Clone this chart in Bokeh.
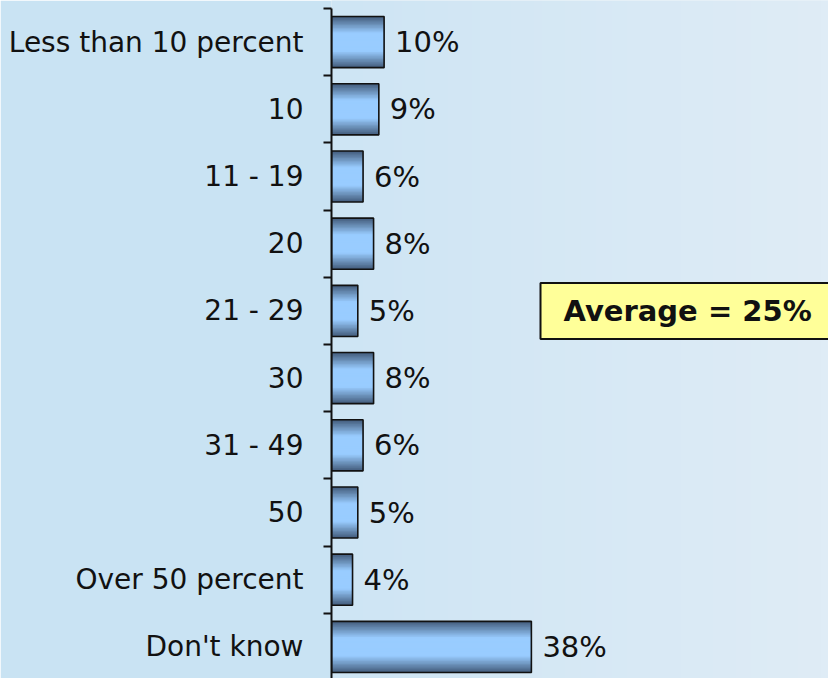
import numpy as np
from bokeh.plotting import figure
from bokeh.models import Range1d, FixedTicker, Label, ColumnDataSource
from bokeh.core.properties import value
from bokeh.embed import file_html
from bokeh.resources import INLINE

categories = ["Less than 10 percent", "10", "11 - 19", "20", "21 - 29", "30",
              "31 - 49", "50", "Over 50 percent", "Don't know"]
values = [10, 9, 6, 8, 5, 8, 6, 5, 4, 38]
value_labels = ["10%", "9%", "6%", "8%", "5%", "8%", "6%", "5%", "4%", "38%"]
average_text = "Average = 25%"
average_row = 4

FONT = "DejaVu Sans"
W, H = 828, 678
LEFT = 331
TOP = 8
PX_PER_PCT = 5.26
ROW = 67.2
pos = list(range(len(categories)))

x_rng = Range1d(0, (W - LEFT) / PX_PER_PCT)
y_rng = Range1d(-0.5 + (H - TOP) / ROW, -0.5 - TOP / ROW)

p = figure(width=W, height=H, output_backend="svg", toolbar_location=None,
           x_range=x_rng, y_range=y_rng, x_axis_location=None,
           y_axis_location="left", min_border_left=LEFT, min_border_right=0,
           min_border_top=0, min_border_bottom=0)
p.border_fill_color = "#c9e3f3"
p.background_fill_color = "#d6e8f4"
p.outline_line_color = None
p.grid.visible = False

# background gradient in the plot frame
n = 64
c0 = np.array([0xce, 0xe5, 0xf4])
c1 = np.array([0xdf, 0xec, 0xf6])
img = np.zeros((1, n), dtype=np.uint32)
view = img.view(dtype=np.uint8).reshape((1, n, 4))
for i in range(n):
    c = c0 + (c1 - c0) * i / (n - 1)
    view[0, i, :3] = c.astype(np.uint8)
    view[0, i, 3] = 255
p.image_rgba(image=[img], x=x_rng.start, y=y_rng.end, dw=x_rng.end - x_rng.start,
             dh=y_rng.start - y_rng.end)

src = ColumnDataSource(dict(y=pos, right=values, lab=value_labels))

# bar gradient (layered)
BH = 0.76
edge = np.array([0x46, 0x60, 0x80])
center = np.array([0x99, 0xcc, 0xff])
steps = 18
for k in range(steps):
    r = 1 - k / steps
    f = min(1.0, (1 - r) / 0.62)
    c = edge + (center - edge) * f
    col = "#%02x%02x%02x" % tuple(int(v) for v in c)
    p.hbar(y="y", right="right", left=0, height=BH * r, source=src,
           fill_color=col, line_color=None)
p.hbar(y="y", right="right", left=0, height=BH, source=src,
       fill_color=None, line_color="#111111", line_width=1.6)

p.text(x="right", y="y", text="lab", source=src, x_offset=11,
       text_baseline="middle", text_align="left", text_font=value(FONT),
       text_font_size="29px", text_color="#111111")

ax = p.yaxis[0]
ax.bounds = (-0.5, len(categories) - 0.5)
ax.ticker = FixedTicker(ticks=pos, minor_ticks=[i - 0.5 for i in range(len(categories) + 1)])
ax.major_label_overrides = {i: c for i, c in enumerate(categories)}
ax.major_tick_out = 0
ax.major_tick_in = 0
ax.minor_tick_out = 8
ax.minor_tick_in = 0
ax.minor_tick_line_width = 2
ax.minor_tick_line_color = "#111111"
ax.axis_line_width = 2
ax.axis_line_color = "#111111"
ax.major_label_standoff = 20
ax.major_label_text_font = FONT
ax.major_label_text_font_size = "28px"
ax.major_label_text_color = "#111111"

lab = Label(x=(540 - LEFT) / PX_PER_PCT, y=average_row, text=average_text,
            text_font=FONT, text_font_size="29px", text_font_style="bold",
            text_color="#111111", text_baseline="middle", text_align="left",
            background_fill_color="#ffff99", border_line_color="#111111",
            border_line_width=2, padding=(23, 40, 11, 11))
p.add_layout(lab)

open("out.html", "w").write(file_html(p, INLINE))
